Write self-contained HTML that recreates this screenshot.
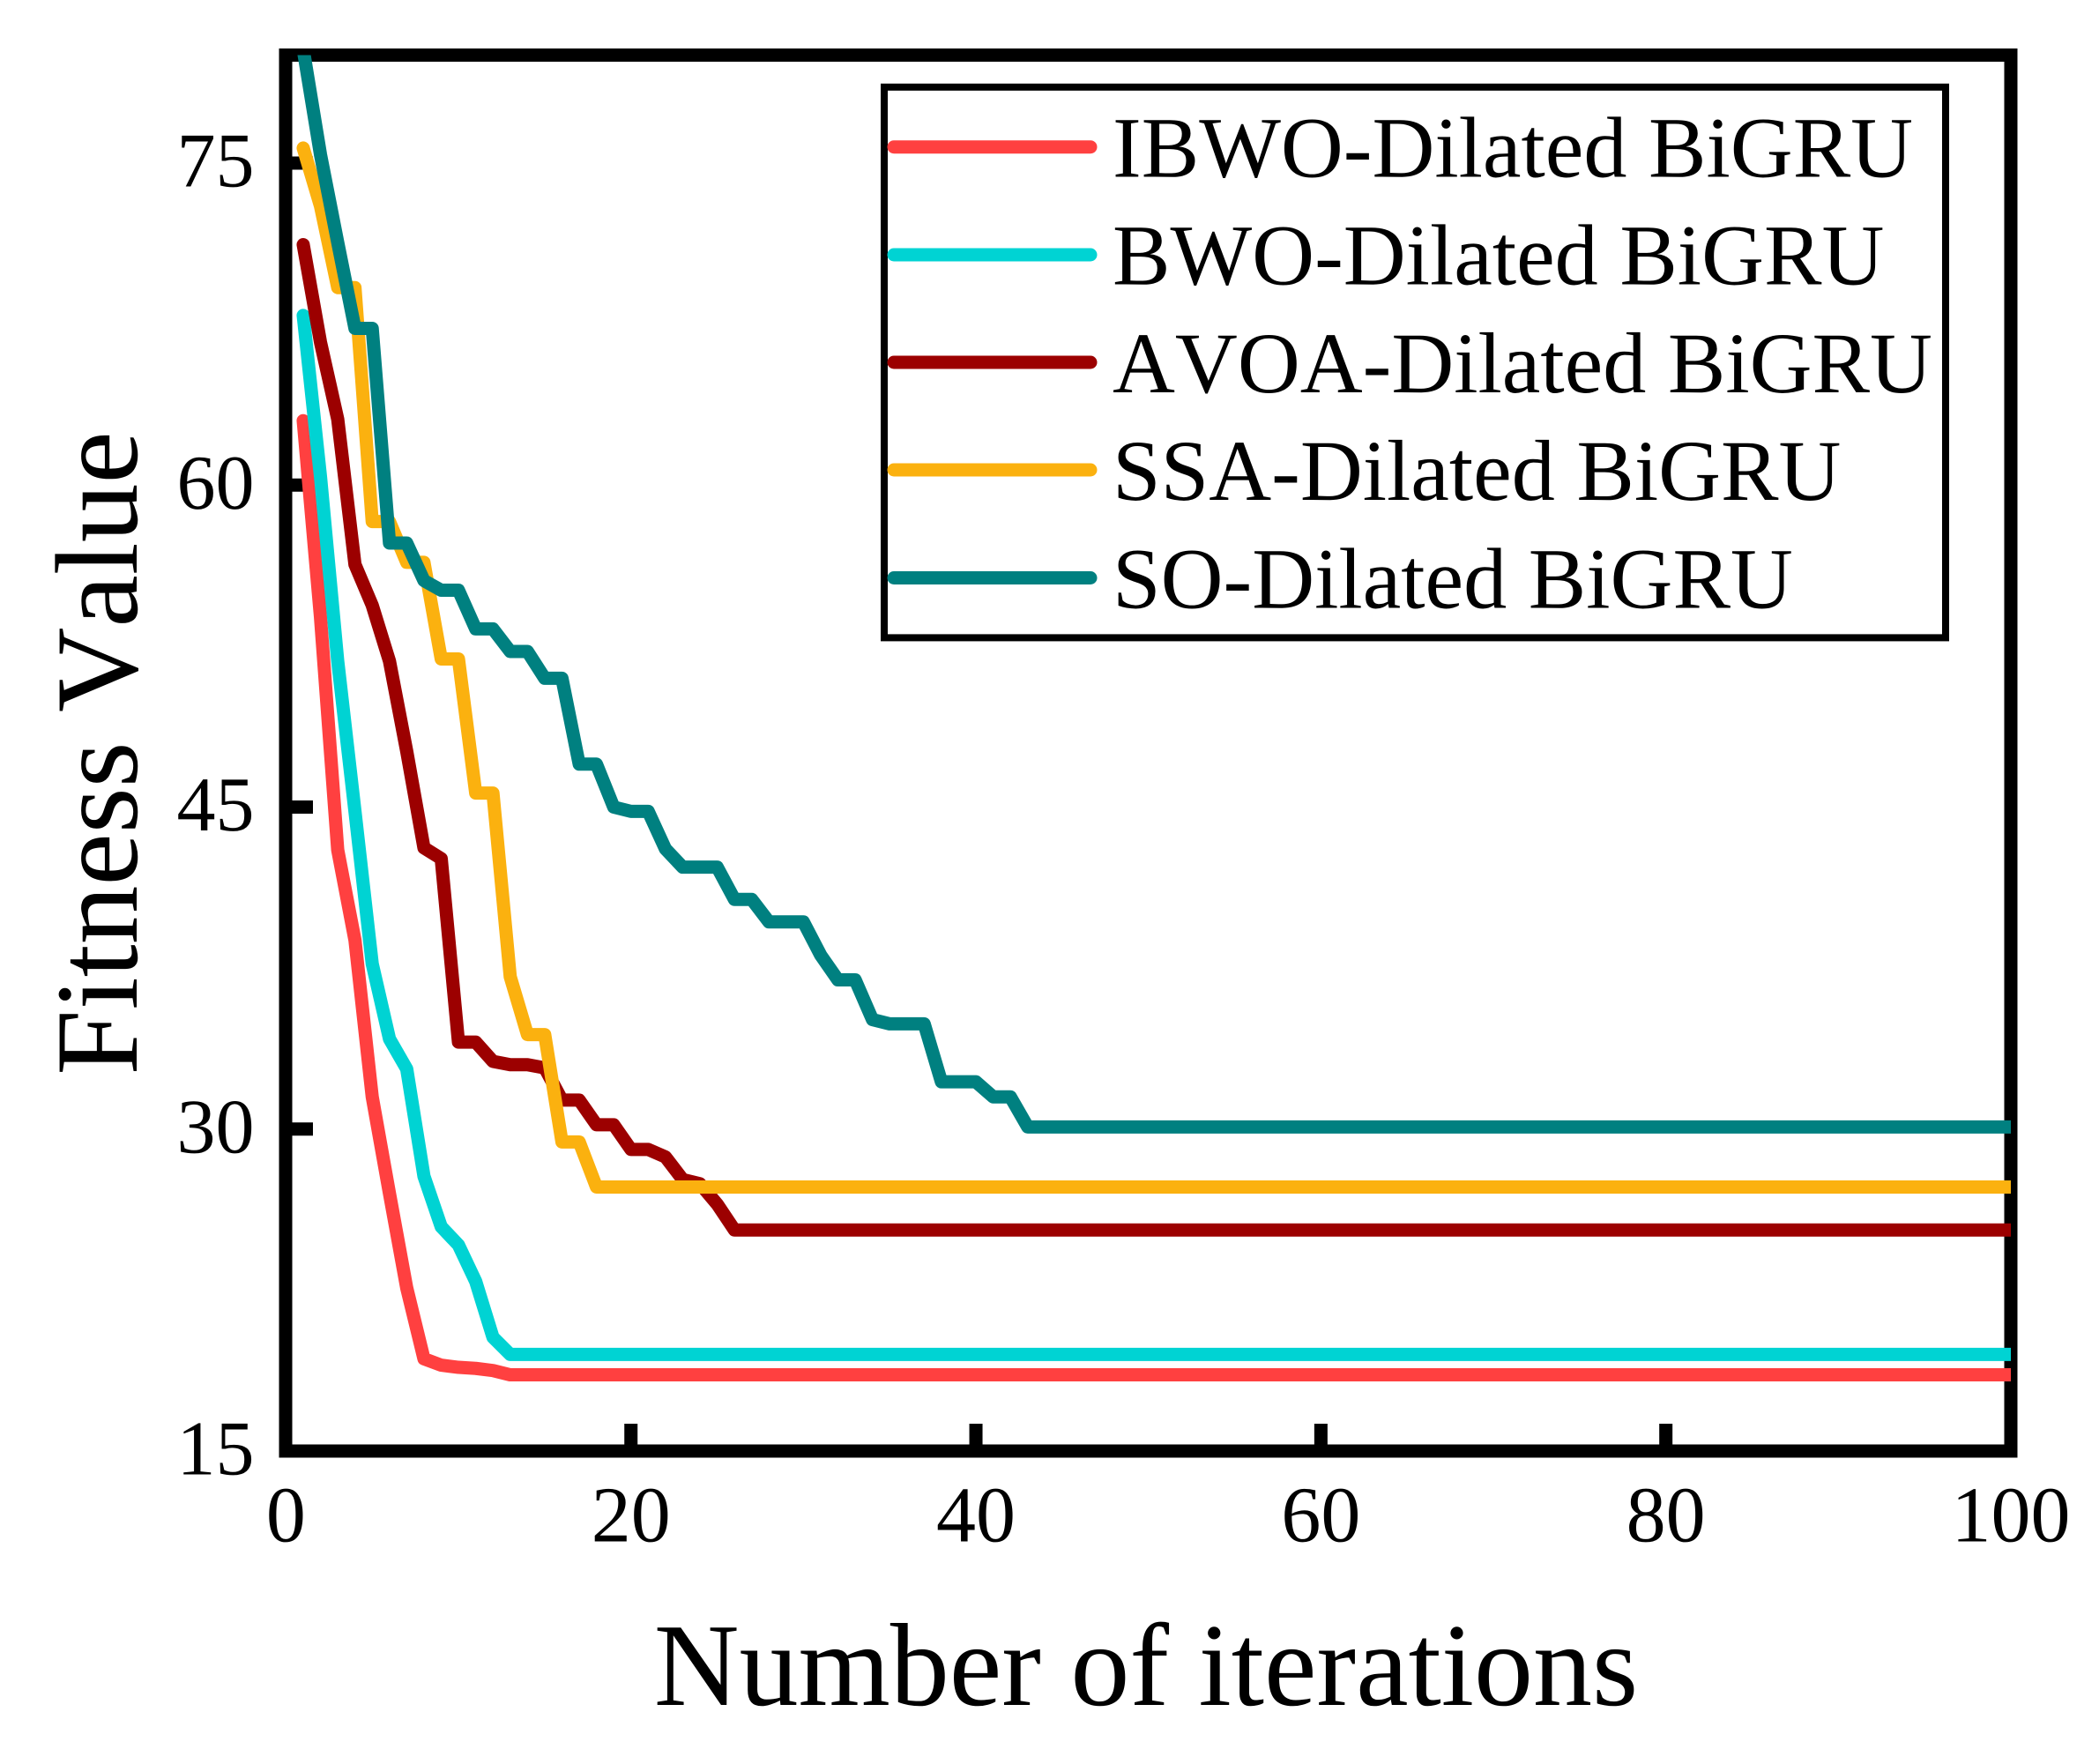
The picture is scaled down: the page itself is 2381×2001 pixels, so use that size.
<!DOCTYPE html>
<html lang="en">
<head>
<meta charset="utf-8">
<title>Fitness Value vs Number of iterations</title>
<style>
html,body{margin:0;padding:0;background:#fff;}
svg{display:block;font-family:"Liberation Serif","Times New Roman",serif;fill:#000;font-kerning:none;text-rendering:geometricPrecision;}
</style>
</head>
<body>
<svg id="chart" xmlns="http://www.w3.org/2000/svg" width="2381" height="2001" viewBox="0 0 2381 2001">
  <rect x="0" y="0" width="2381" height="2001" fill="#ffffff"/>
  <defs>
    <clipPath id="plot-clip"><rect x="324" y="62.5" width="1957" height="1583.5"/></clipPath>
  </defs>
  <g id="ticks"></g>
  <rect x="324" y="62.5" width="1957" height="1583.5" fill="none" stroke="#000" stroke-width="15"/>
  <g id="tick-labels"></g>
  <g id="series" clip-path="url(#plot-clip)"></g>
  <text x="1300" y="1934" font-size="134" text-anchor="middle">Number of iterations</text>
  <text transform="translate(155 854.5) rotate(-90)" font-size="133.5" text-anchor="middle">Fitness Value</text>
  <g>
    <rect x="1003" y="98.8" width="1204" height="624.6" fill="#fff" stroke="#000" stroke-width="8"/>
    <g>
      <line x1="1014" y1="166.7" x2="1237" y2="166.7" stroke="#ff4040" stroke-width="15" stroke-linecap="round"/>
      <text x="1262" y="200.6" font-size="98.2">IBWO-Dilated BiGRU</text>
    </g>
    <g>
      <line x1="1014" y1="289" x2="1237" y2="289" stroke="#00d3d3" stroke-width="15" stroke-linecap="round"/>
      <text x="1262" y="322.6" font-size="98.2">BWO-Dilated BiGRU</text>
    </g>
    <g>
      <line x1="1014" y1="411" x2="1237" y2="411" stroke="#9c0000" stroke-width="15" stroke-linecap="round"/>
      <text x="1262" y="445" font-size="98.2">AVOA-Dilated BiGRU</text>
    </g>
    <g>
      <line x1="1014" y1="533" x2="1237" y2="533" stroke="#fbb10f" stroke-width="15" stroke-linecap="round"/>
      <text x="1262" y="567" font-size="98.2">SSA-Dilated BiGRU</text>
    </g>
    <g>
      <line x1="1014" y1="655.5" x2="1237" y2="655.5" stroke="#008080" stroke-width="15" stroke-linecap="round"/>
      <text x="1262" y="689.5" font-size="98.2">SO-Dilated BiGRU</text>
    </g>
  </g>
</svg>
<script>
const xTickValues = [0, 20, 40, 60, 80, 100];
const yTickValues = [15, 30, 45, 60, 75];
const iterations = [
  1,2,3,4,5,6,7,8,9,10,
  11,12,13,14,15,16,17,18,19,20,
  21,22,23,24,25,26,27,28,29,30,
  31,32,33,34,35,36,37,38,39,40,
  41,42,43,44,45,46,47,48,49,50,
  51,52,53,54,55,56,57,58,59,60,
  61,62,63,64,65,66,67,68,69,70,
  71,72,73,74,75,76,77,78,79,80,
  81,82,83,84,85,86,87,88,89,90,
  91,92,93,94,95,96,97,98,99,100
];
const ibwoValues = [
  63,53.85,43,38.8,31.5,27,22.6,19.3,19,18.9,
  18.85,18.75,18.55,18.55,18.55,18.55,18.55,18.55,18.55,18.55,
  18.55,18.55,18.55,18.55,18.55,18.55,18.55,18.55,18.55,18.55,
  18.55,18.55,18.55,18.55,18.55,18.55,18.55,18.55,18.55,18.55,
  18.55,18.55,18.55,18.55,18.55,18.55,18.55,18.55,18.55,18.55,
  18.55,18.55,18.55,18.55,18.55,18.55,18.55,18.55,18.55,18.55,
  18.55,18.55,18.55,18.55,18.55,18.55,18.55,18.55,18.55,18.55,
  18.55,18.55,18.55,18.55,18.55,18.55,18.55,18.55,18.55,18.55,
  18.55,18.55,18.55,18.55,18.55,18.55,18.55,18.55,18.55,18.55,
  18.55,18.55,18.55,18.55,18.55,18.55,18.55,18.55,18.55,18.55
];
const bwoValues = [
  67.9,60.4,51.8,44.8,37.7,34.2,32.8,27.8,25.45,24.6,
  22.9,20.3,19.5,19.5,19.5,19.5,19.5,19.5,19.5,19.5,
  19.5,19.5,19.5,19.5,19.5,19.5,19.5,19.5,19.5,19.5,
  19.5,19.5,19.5,19.5,19.5,19.5,19.5,19.5,19.5,19.5,
  19.5,19.5,19.5,19.5,19.5,19.5,19.5,19.5,19.5,19.5,
  19.5,19.5,19.5,19.5,19.5,19.5,19.5,19.5,19.5,19.5,
  19.5,19.5,19.5,19.5,19.5,19.5,19.5,19.5,19.5,19.5,
  19.5,19.5,19.5,19.5,19.5,19.5,19.5,19.5,19.5,19.5,
  19.5,19.5,19.5,19.5,19.5,19.5,19.5,19.5,19.5,19.5,
  19.5,19.5,19.5,19.5,19.5,19.5,19.5,19.5,19.5,19.5
];
const avoaValues = [
  71.2,66.66,63.07,56.3,54.4,51.8,47.6,43.1,42.6,34.05,
  34.05,33.15,33,33,32.85,31.35,31.35,30.2,30.2,29.05,
  29.05,28.7,27.65,27.45,26.5,25.3,25.3,25.3,25.3,25.3,
  25.3,25.3,25.3,25.3,25.3,25.3,25.3,25.3,25.3,25.3,
  25.3,25.3,25.3,25.3,25.3,25.3,25.3,25.3,25.3,25.3,
  25.3,25.3,25.3,25.3,25.3,25.3,25.3,25.3,25.3,25.3,
  25.3,25.3,25.3,25.3,25.3,25.3,25.3,25.3,25.3,25.3,
  25.3,25.3,25.3,25.3,25.3,25.3,25.3,25.3,25.3,25.3,
  25.3,25.3,25.3,25.3,25.3,25.3,25.3,25.3,25.3,25.3,
  25.3,25.3,25.3,25.3,25.3,25.3,25.3,25.3,25.3,25.3
];
const ssaValues = [
  75.7,73,69.2,69.2,58.3,58.3,56.4,56.4,51.9,51.9,
  45.65,45.65,37.1,34.4,34.4,29.4,29.4,27.3,27.3,27.3,
  27.3,27.3,27.3,27.3,27.3,27.3,27.3,27.3,27.3,27.3,
  27.3,27.3,27.3,27.3,27.3,27.3,27.3,27.3,27.3,27.3,
  27.3,27.3,27.3,27.3,27.3,27.3,27.3,27.3,27.3,27.3,
  27.3,27.3,27.3,27.3,27.3,27.3,27.3,27.3,27.3,27.3,
  27.3,27.3,27.3,27.3,27.3,27.3,27.3,27.3,27.3,27.3,
  27.3,27.3,27.3,27.3,27.3,27.3,27.3,27.3,27.3,27.3,
  27.3,27.3,27.3,27.3,27.3,27.3,27.3,27.3,27.3,27.3,
  27.3,27.3,27.3,27.3,27.3,27.3,27.3,27.3,27.3,27.3
];
const soValues = [
  80.3,75.4,71.3,67.3,67.3,57.3,57.3,55.55,55.1,55.1,
  53.3,53.3,52.25,52.25,51,51,47,47,45,44.8,
  44.8,43.05,42.2,42.2,42.2,40.7,40.7,39.65,39.65,39.65,
  38.1,36.95,36.95,35.1,34.9,34.9,34.9,32.2,32.2,32.2,
  31.5,31.5,30.1,30.1,30.1,30.1,30.1,30.1,30.1,30.1,
  30.1,30.1,30.1,30.1,30.1,30.1,30.1,30.1,30.1,30.1,
  30.1,30.1,30.1,30.1,30.1,30.1,30.1,30.1,30.1,30.1,
  30.1,30.1,30.1,30.1,30.1,30.1,30.1,30.1,30.1,30.1,
  30.1,30.1,30.1,30.1,30.1,30.1,30.1,30.1,30.1,30.1,
  30.1,30.1,30.1,30.1,30.1,30.1,30.1,30.1,30.1,30.1
];

const NS = 'http://www.w3.org/2000/svg';
function xScale(v) { return 324.4 + (v - 0) * (2281 - 324.4) / 100; }
function yScale(v) { return 1646 - (v - 15) * 24.35; }

const tickGroup = document.getElementById('ticks');
const labelGroup = document.getElementById('tick-labels');
const seriesGroup = document.getElementById('series');

xTickValues.forEach(function (v) {
  if (v !== 0 && v !== 100) {
    const t = document.createElementNS(NS, 'line');
    
    
    t.setAttribute('x1', xScale(v));
    t.setAttribute('x2', xScale(v));
    t.setAttribute('y1', 1646);
    t.setAttribute('y2', 1615);
    t.setAttribute('stroke', '#000');
    t.setAttribute('stroke-width', 15);
    tickGroup.appendChild(t);
  }
  const l = document.createElementNS(NS, 'text');
  
  
  l.setAttribute('x', xScale(v));
  l.setAttribute('y', 1748.5);
  l.setAttribute('font-size', 90);
  l.setAttribute('text-anchor', 'middle');
  l.textContent = String(v);
  labelGroup.appendChild(l);
});

yTickValues.forEach(function (v) {
  if (v !== 15) {
    const t = document.createElementNS(NS, 'line');
    
    
    t.setAttribute('x1', 324);
    t.setAttribute('x2', 355);
    t.setAttribute('y1', yScale(v));
    t.setAttribute('y2', yScale(v));
    t.setAttribute('stroke', '#000');
    t.setAttribute('stroke-width', 15);
    tickGroup.appendChild(t);
  }
  const l = document.createElementNS(NS, 'text');
  
  
  l.setAttribute('x', 288.5);
  l.setAttribute('y', yScale(v) + 26.5);
  l.setAttribute('font-size', 88);
  l.setAttribute('text-anchor', 'end');
  l.textContent = String(v);
  labelGroup.appendChild(l);
});

function drawSeries(name, values, color) {
  const d = values.map(function (v, i) {
    return (i === 0 ? 'M' : 'L') + xScale(iterations[i]).toFixed(2) + ' ' + yScale(v).toFixed(2);
  }).join(' ');
  const p = document.createElementNS(NS, 'path');
  
  
  p.setAttribute('d', d);
  p.setAttribute('fill', 'none');
  p.setAttribute('stroke', color);
  p.setAttribute('stroke-width', 15);
  p.setAttribute('stroke-linejoin', 'round');
  p.setAttribute('stroke-linecap', 'round');
  seriesGroup.appendChild(p);
}

drawSeries('series-ibwo-dilated-bigru', ibwoValues, '#ff4040');
drawSeries('series-bwo-dilated-bigru', bwoValues, '#00d3d3');
drawSeries('series-avoa-dilated-bigru', avoaValues, '#9c0000');
drawSeries('series-ssa-dilated-bigru', ssaValues, '#fbb10f');
drawSeries('series-so-dilated-bigru', soValues, '#008080');
</script>
</body>
</html>
